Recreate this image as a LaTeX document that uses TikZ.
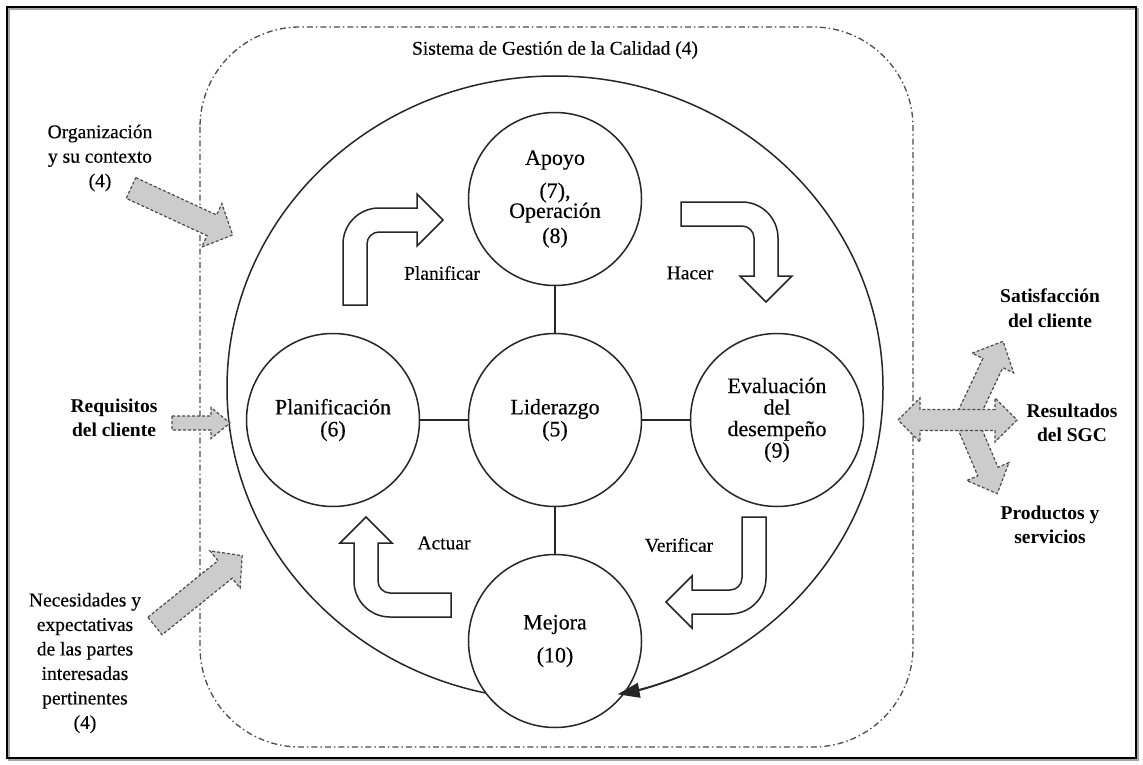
\documentclass[tikz,border=0pt]{standalone}
\usepackage{fontspec}
\setmainfont{Liberation Serif}[UprightFeatures={FakeBold=0.3}]
\usetikzlibrary{arrows.meta}

\tikzset{
  lbl/.style={font=\fontsize{19.5pt}{24.5pt}\selectfont, align=center, inner sep=0pt},
  blbl/.style={lbl, font=\fontsize{19.5pt}{24.5pt}\selectfont\bfseries},
  clause/.style={circle, draw=black!85, line width=1.5pt, fill=white,
    minimum size=173pt, inner sep=0pt, align=center,
    font=\fontsize{22pt}{26pt}\selectfont},
  link/.style={draw=black!85, line width=1.4pt},
  bentline/.style={draw=black!85, line width=1.5pt, fill=white, line join=miter},
  grayarrow/.style={draw=black!70, fill=black!20, line width=1.2pt,
    dash pattern=on 3pt off 2pt, line join=miter},
  sgcborder/.style={draw=black!70, line width=1.3pt,
    dash pattern=on 6pt off 3pt on 1.5pt off 3pt, rounded corners=100pt},
  % block arrow bent by a quarter turn: tail from below, head to the right
  bentarrow/.pic={
    \path[bentline] (-12,85) -- (-12,24) arc[start angle=180, end angle=270, radius=36]
      -- (62,-12) -- (62,-26) -- (88,0) -- (62,26) -- (62,12) -- (24,12)
      arc[start angle=270, end angle=180, radius=12] -- (12,85) -- cycle;
  }
}

\begin{document}
\begin{tikzpicture}[x=1pt, y=-1pt]
  \useasboundingbox (0,0) rectangle (1143,765);
  \fill[white] (0,0) rectangle (1143,765);

  % outer frame
  \draw[black!35, line width=2pt] (9,9) rectangle (1138,760);
  \draw[black, line width=1.8pt] (7,7) rectangle (1136,758);

  % quality management system boundary
  \draw[sgcborder] (200,27) rectangle (913,747);
  \node[lbl] (title) at (555,50) {Sistema de Gestión de la Calidad (4)};

  % PDCA cycle
  \draw[black!85, line width=1.5pt] (555,388) ellipse [x radius=328, y radius=312];

  % clause circles
  \node[clause] (lid)  at (555,420) {Liderazgo\\[-4pt](5)};
  \node[clause] (apo)  at (555,199) {Apoyo\\[7pt](7),\\[-6pt]Operación\\[-1pt](8)};
  \node[clause] (plan) at (333,420) {Planificación\\[-4pt](6)};
  \node[clause] (eval) at (777,420) {Evaluación\\[-4.5pt]del\\[-4.5pt]desempeño\\[-4.5pt](9)};
  \node[clause] (mej)  at (555,641) {Mejora\\[7pt](10)};

  \draw[link] (lid) -- (apo);
  \draw[link] (lid) -- (plan);
  \draw[link] (lid) -- (eval);
  \draw[link] (lid) -- (mej);

  % head of the cycle arrow
  \draw[black!85, line width=1.5pt, -{Triangle[length=22pt, width=15pt]}, shift={(555,388)}]
    (66:328 and 312) arc[start angle=66, end angle=79, x radius=328, y radius=312];

  % plan - do - check - act arrows
  \pic at (355,220) {bentarrow};
  \pic[rotate=-90] at (766,214) {bentarrow};
  \pic[rotate=180] at (754,602) {bentarrow};
  \pic[rotate=90] at (366,605) {bentarrow};

  \node[lbl] (planificar) at (442,273) {Planificar};
  \node[lbl] (hacer)      at (690,273) {Hacer};
  \node[lbl] (verificar)  at (679,545) {Verificar};
  \node[lbl] (actuar)     at (444,543) {Actuar};

  % inputs
  \draw[grayarrow, shift={(131,188)}, rotate=-24.8]
    (0,-11.4) -- (89,-11.4) -- (89,-24) -- (112,0) -- (89,24) -- (89,11.4) -- (0,11.4) -- cycle;
  \draw[grayarrow, shift={(172,423)}]
    (0,-7) -- (39,-7) -- (39,-15.5) -- (58,0) -- (39,15.5) -- (39,7) -- (0,7) -- cycle;
  \draw[grayarrow, shift={(155,626)}, rotate=38.9]
    (0,-11.3) -- (90,-11.3) -- (90,-24) -- (112,0) -- (90,24) -- (90,11.3) -- (0,11.3) -- cycle;

  \node[lbl] (contexto) at (100,158) {Organización\\y su contexto\\(4)};
  \node[blbl] (requisitos) at (114,418) {Requisitos\\del cliente};
  \node[lbl] (partes) at (85,663) {Necesidades y\\expectativas\\de las partes\\interesadas\\pertinentes\\(4)};

  % outputs
  \draw[grayarrow, shift={(966,420)}, rotate=64.8]
    (0,-11) -- (63,-11) -- (63,-23) -- (87,0) -- (63,23) -- (63,11) -- (0,11) -- cycle;
  \draw[grayarrow, shift={(966,420)}, rotate=-67]
    (0,-11) -- (56,-11) -- (56,-23) -- (80,0) -- (56,23) -- (56,11) -- (0,11) -- cycle;
  \draw[grayarrow]
    (898,420) -- (920,398) -- (920,409.5) -- (995,409.5) -- (995,398) -- (1017,420)
    -- (995,442) -- (995,430.5) -- (920,430.5) -- (920,442) -- cycle;

  \node[blbl] (satisfaccion) at (1050,308) {Satisfacción\\del cliente};
  \node[blbl] (resultados)   at (1072,423) {Resultados\\del SGC};
  \node[blbl] (productos)    at (1050,525) {Productos y\\servicios};
\end{tikzpicture}
\end{document}
